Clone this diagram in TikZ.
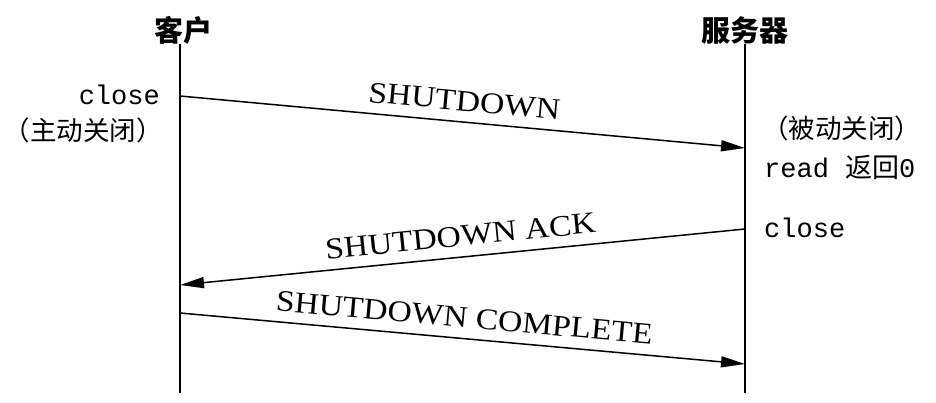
\documentclass[tikz,border=0pt]{standalone}
\usepackage{fontspec}
\setmainfont{Liberation Serif}
\setmonofont{Liberation Mono}
\newfontfamily\cjk{Noto Sans CJK SC}
\newfontfamily\lblfont[FakeStretch=1.12]{Liberation Serif}
\usetikzlibrary{arrows.meta}
\begin{document}
\begin{tikzpicture}[x=1pt,y=-1pt,
  life/.style={line width=1.6pt},
  msg/.style={line width=1.5pt,-{Triangle[length=24pt,width=11pt]}},
  mlabel/.style={font=\lblfont\fontsize{30}{30}\selectfont, sloped, above, inner sep=10pt},
  head/.style={font=\cjk\bfseries\fontsize{29}{29}\selectfont, inner sep=0pt},
  note/.style={inner sep=0pt},
  monotxt/.style={font=\ttfamily\fontsize{27}{27}\selectfont},
  cjktxt/.style={font=\cjk\fontsize{26.5}{26.5}\selectfont}]
\useasboundingbox (0,0) rectangle (936,403);
% headers
\node[head] (cli) at (183,30) {客户};
\node[head] (srv) at (745,30) {服务器};
% lifeline ends
\coordinate (cb) at (180,393);
\coordinate (sb) at (745,393);
\coordinate (ct) at (180,44);
\coordinate (st) at (745,44);
\draw[life] (ct) -- (cb);
\draw[life] (st) -- (sb);
% message points
\coordinate (c1) at (180,96);
\coordinate (s1) at (745,148);
\coordinate (s2) at (745,229);
\coordinate (c2) at (180,285);
\coordinate (c3) at (180,313);
\coordinate (s3) at (745,364);
\draw[msg] (c1) -- node[mlabel, pos=0.5] {SHUTDOWN} (s1);
\draw[msg] (s2) -- node[mlabel, pos=0.5] {SHUTDOWN ACK} (c2);
\draw[msg] (c3) -- node[mlabel, pos=0.5] {SHUTDOWN COMPLETE} (s3);
% notes
\node[note, monotxt, anchor=base east] (lclose) at (160,105) {close};
\node[note, cjktxt, anchor=base east] (lact) at (163,141) {（主动关闭）};
\node[note, cjktxt, anchor=base west] (rpas) at (762,139) {（被动关闭）};
\node[note, anchor=base west] (rread) at (764,178) {\ttfamily\fontsize{27}{27}\selectfont read {\cjk\fontsize{27}{27}\selectfont 返回}0};
\node[note, monotxt, anchor=base west] (rclose) at (764,238) {close};
\end{tikzpicture}
\end{document}
